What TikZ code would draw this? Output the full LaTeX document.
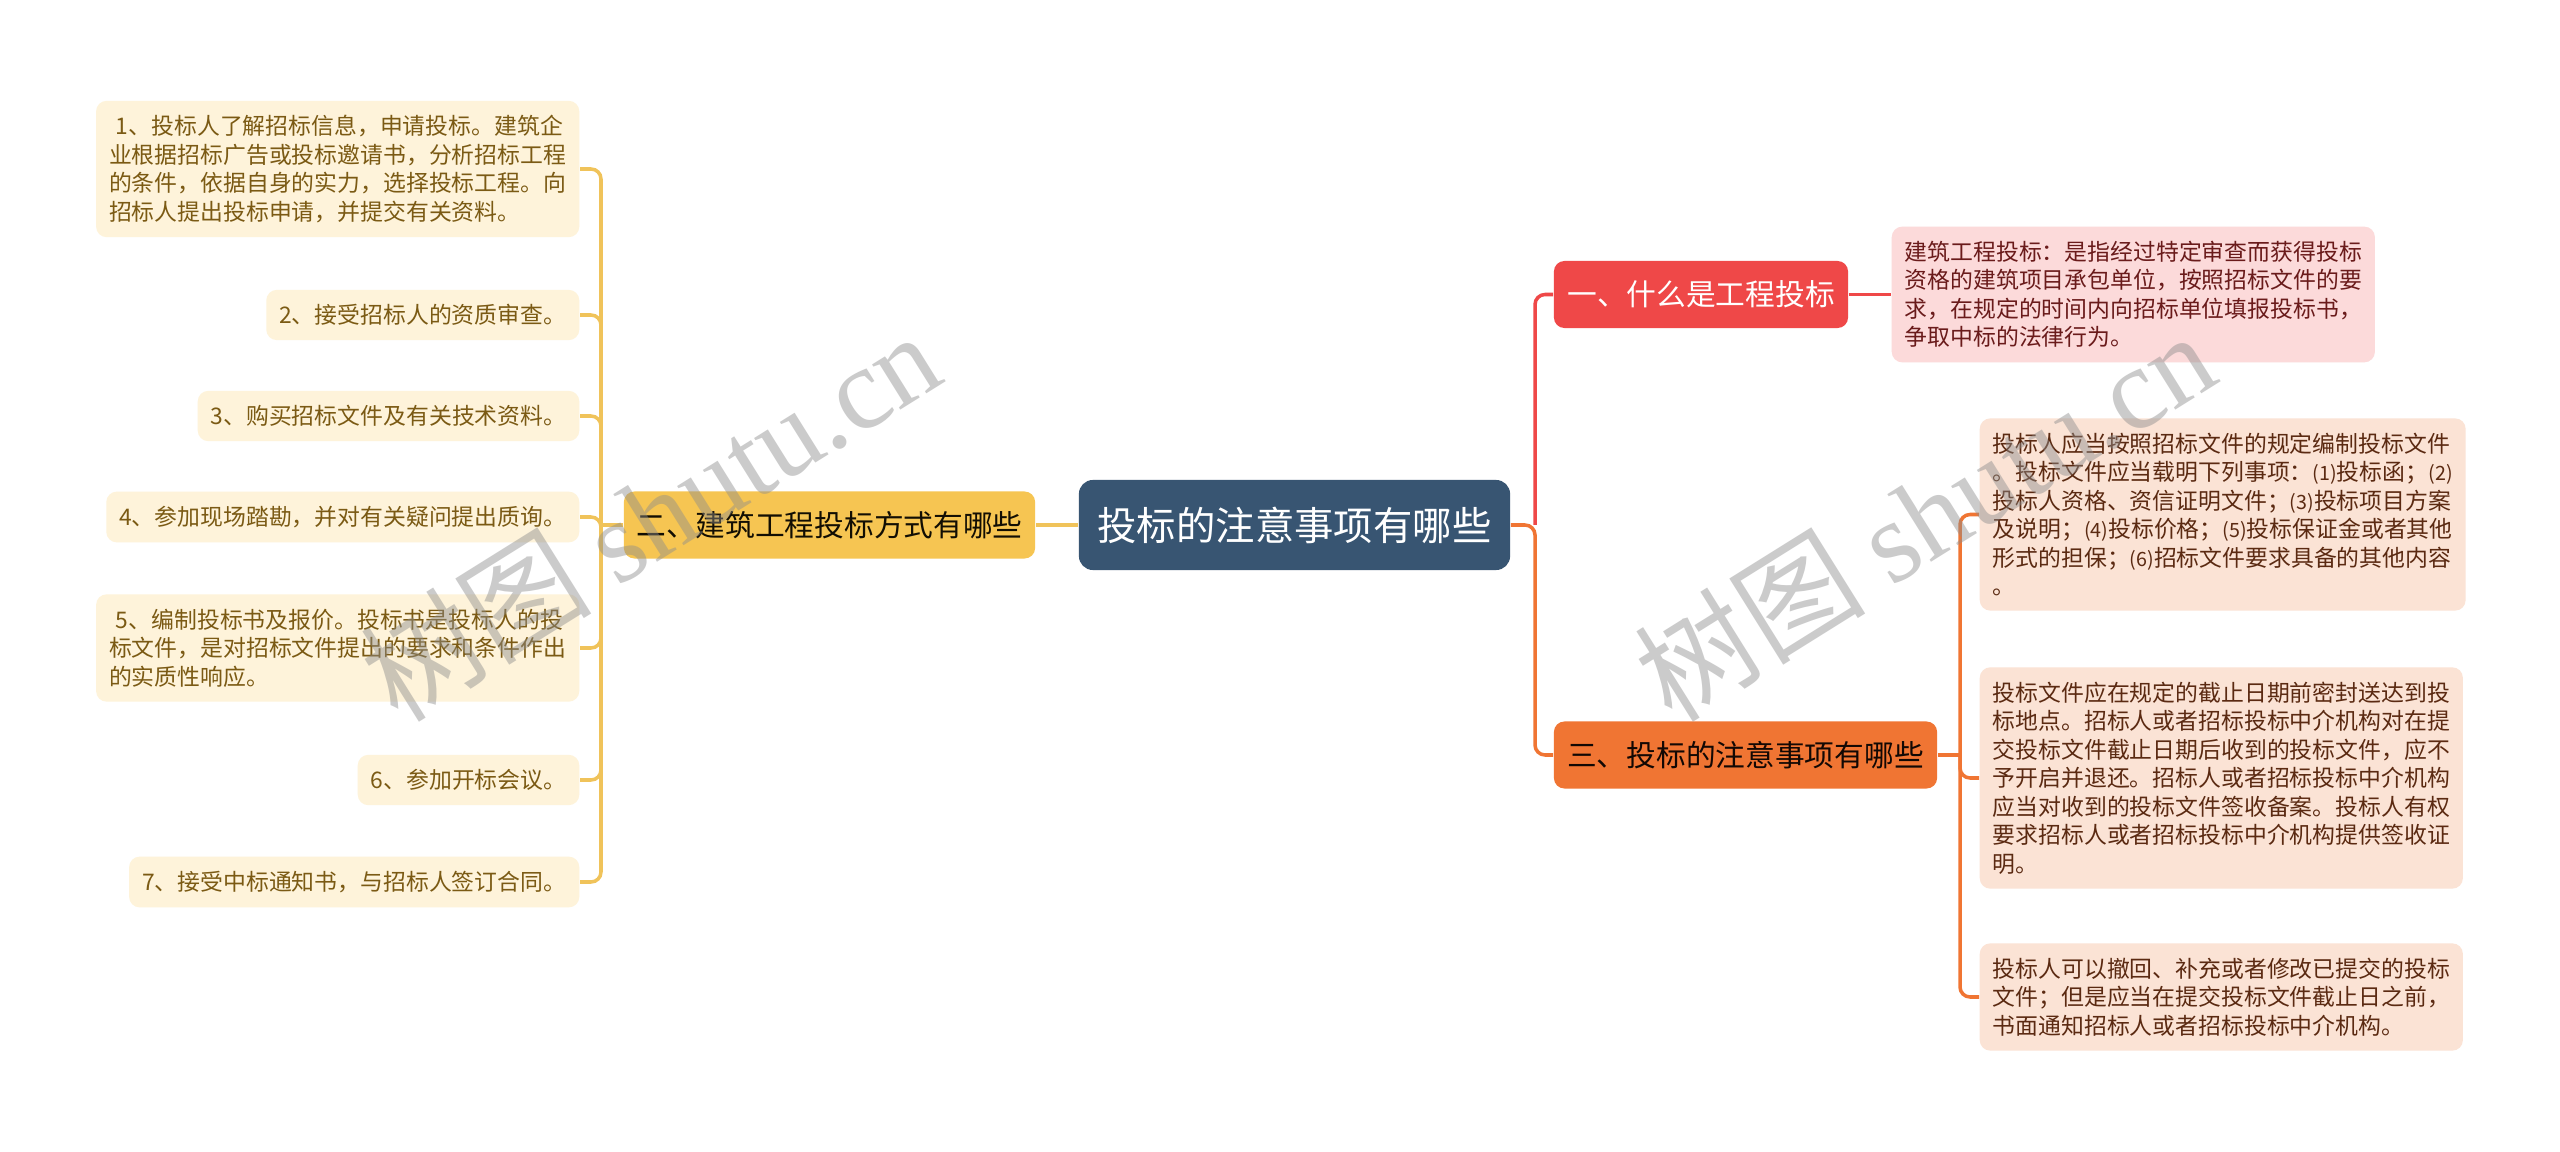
\documentclass[tikz,border=0pt]{standalone}
\usepackage{fontspec}
\setmainfont{Noto Sans CJK SC}
\newfontfamily\stampfont{Liberation Serif}
\usetikzlibrary{calc}
\definecolor{rootblue}{HTML}{385572}
\definecolor{gold}{HTML}{F6C552}
\definecolor{goldline}{HTML}{F0C35A}
\definecolor{cream}{HTML}{FEF3DA}
\definecolor{olive}{HTML}{7B5A14}
\definecolor{coral}{HTML}{EF4848}
\definecolor{blush}{HTML}{FCDADA}
\definecolor{wine}{HTML}{6A1B1B}
\definecolor{tangerine}{HTML}{F07533}
\definecolor{peach}{HTML}{FBE3D5}
\definecolor{rust}{HTML}{5B2A12}
\newcommand\pn[1]{{\fontsize{5.6}{8.1}\selectfont(#1)}}
\tikzset{
  root/.style={fill=rootblue,text=white,rounded corners=4pt,inner sep=0pt,
    minimum width=4.31cm,minimum height=0.9cm,font=\fontsize{11.2}{13}\selectfont},
  topic/.style={rounded corners=3pt,inner sep=0pt,minimum height=0.67cm,
    font=\fontsize{8.45}{10}\selectfont},
  leaf/.style={rounded corners=3pt,align=left,inner xsep=0.13cm,inner ysep=0.145cm,
    font=\fontsize{6.5}{8.1}\selectfont},
  item/.style={leaf,fill=cream,text=olive,anchor=east},
  define/.style={leaf,fill=blush,text=wine,anchor=west},
  rule/.style={leaf,fill=peach,text=rust,anchor=west},
  ylink/.style={draw=goldline,line width=1pt,rounded corners=0.1cm},
  rlink/.style={draw=coral,line width=1pt,rounded corners=0.1cm},
  olink/.style={draw=tangerine,line width=1pt,rounded corners=0.1cm},
  stamp/.style={text=black!45,text opacity=0.45,rotate=32,font=\fontsize{33}{36}\selectfont}
}

\begin{document}
\begin{tikzpicture}[x=0.01cm,y=-0.01cm]
  \path[use as bounding box,fill=white] (0,0) rectangle (2560,1152);

  % Centre topic.
  \node[root] (root) at (1294.5,525) {投标的注意事项有哪些};

  % Left branch: the steps of bidding.
  \node[topic,fill=gold,text=black!85!olive,minimum width=4.11cm] (way) at (829.5,525) {二、建筑工程投标方式有哪些};
  \node[item] (item1) at (580,169) {\hspace{0.3em}1、投标人了解招标信息，申请投标。建筑企\\业根据招标广告或投标邀请书，分析招标工程\\的条件，依据自身的实力，选择投标工程。向\\招标人提出投标申请，并提交有关资料。};
  \node[item] (item2) at (580,315) {2、接受招标人的资质审查。};
  \node[item] (item3) at (580,416) {3、购买招标文件及有关技术资料。};
  \node[item] (item4) at (580,517) {4、参加现场踏勘，并对有关疑问提出质询。};
  \node[item] (item5) at (580,648) {\hspace{0.3em}5、编制投标书及报价。投标书是投标人的投\\标文件，是对招标文件提出的要求和条件作出\\的实质性响应。};
  \node[item] (item6) at (580,780) {6、参加开标会议。};
  \node[item] (item7) at (580,882) {7、接受中标通知书，与招标人签订合同。};

  \coordinate (lspine) at (601,525);
  \draw[ylink] (root.west) -- (way.east);
  \draw[ylink] (way.west) -- (lspine);
  \foreach \i in {1,...,7}
    \draw[ylink] (lspine) |- (item\i.east);

  % Right branches.
  \node[topic,fill=coral,text=white,minimum width=2.94cm] (what) at (1701,294.5) {一、什么是工程投标};
  \node[define] (define) at (1891,294.5) {建筑工程投标：是指经过特定审查而获得投标\\资格的建筑项目承包单位，按照招标文件的要\\求，在规定的时间内向招标单位填报投标书，\\争取中标的法律行为。};

  \node[topic,fill=tangerine,text=black!80!rust,minimum width=3.83cm] (note) at (1745.5,755) {三、投标的注意事项有哪些};
  \node[rule] (rule1) at (1979,514.5) {投标人应当按照招标文件的规定编制投标文件\\。投标文件应当载明下列事项：\pn{1}投标函；\pn{2}\\投标人资格、资信证明文件；\pn{3}投标项目方案\\及说明；\pn{4}投标价格；\pn{5}投标保证金或者其他\\形式的担保；\pn{6}招标文件要求具备的其他内容\\。};
  \node[rule] (rule2) at (1979,778) {投标文件应在规定的截止日期前密封送达到投\\标地点。招标人或者招标投标中介机构对在提\\交投标文件截止日期后收到的投标文件，应不\\予开启并退还。招标人或者招标投标中介机构\\应当对收到的投标文件签收备案。投标人有权\\要求招标人或者招标投标中介机构提供签收证\\明。};
  \node[rule] (rule3) at (1979,997) {投标人可以撤回、补充或者修改已提交的投标\\文件；但是应当在提交投标文件截止日之前，\\书面通知招标人或者招标投标中介机构。};

  \coordinate (rspine) at (1535,525);
  \draw[rlink] (rspine) |- (what.west);
  \draw[rlink] (what.east) -- (define.west);
  \draw[olink] (root.east) -- (rspine) |- (note.west);

  \coordinate (ospine) at (1960,755);
  \draw[olink] (note.east) -- (ospine);
  \foreach \n in {rule1,rule2,rule3}
    \draw[olink] (ospine) |- (\n.west);

  % Watermarks.
  \node[stamp] (stampl) at (650,515) {树图 {\stampfont shutu.cn}};
  \node[stamp] (stampr) at (1924,515) {树图 {\stampfont shutu.cn}};
\end{tikzpicture}
\end{document}
